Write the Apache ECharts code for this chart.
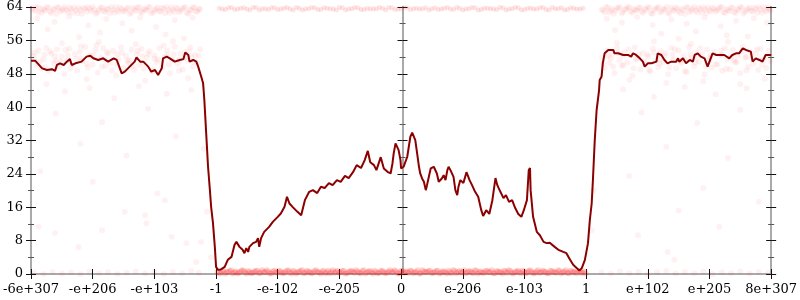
<!DOCTYPE html>
<html><head><meta charset="utf-8">
<script src="https://cdn.jsdelivr.net/npm/echarts@6/dist/echarts.min.js"></script>
<style>html,body{margin:0;padding:0;background:#fff}#c{width:800px;height:300px}</style>
</head><body><div id="c"></div>
<script>
// x positions are in "tick units": 0 = -6e+307 ... 6 = 0 ... 12 = 8e+307
const xTickLabels = ['-6e+307','-e+206','-e+103','-1','-e-102','-e-205','0','e-206','e-103','1','e+102','e+205','8e+307'];

// moving-average line
const lineU = [0,0.07,0.18,0.26,0.34,0.39,0.42,0.47,0.53,0.58,0.63,0.66,0.72,0.82,0.90,0.96,1.01,1.09,1.17,1.25,1.34,1.39,1.44,1.47,1.52,1.60,1.68,1.71,1.77,1.82,1.85,1.90,1.95,2.01,2.06,2.12,2.14,2.20,2.25,2.33,2.41,2.47,2.50,2.55,2.57,2.63,2.68,2.71,2.76,
 2.79,2.81,2.84,2.87,2.90,2.92,2.95,2.98,3.00,3.03,3.08,3.14,3.19,3.25,3.30,3.33,3.38,3.43,3.46,3.49,3.52,3.54,3.60,3.65,3.68,3.70,3.73,3.78,3.86,3.92,4.00,4.05,4.11,4.15,4.19,4.24,4.32,4.38,
 4.44,4.51,4.57,4.64,4.70,4.76,4.83,4.89,4.96,5.02,5.09,5.15,5.22,5.28,5.35,5.41,5.46,5.50,5.56,5.60,5.67,
 5.72,5.78,5.83,5.86,5.88,5.91,5.94,5.96,5.99,6.00,6.02,6.04,6.10,6.15,6.18,6.21,6.23,6.26,6.29,6.31,6.34,6.37,6.40,6.42,6.45,6.48,6.53,6.56,6.58,6.61,6.64,6.66,6.69,6.72,6.75,6.77,6.80,6.83,6.85,6.88,6.91,6.93,6.96,
 7.01,7.06,7.11,7.15,7.20,7.25,7.30,7.33,7.38,7.43,7.48,7.53,7.56,7.61,7.66,7.70,7.75,7.80,7.85,7.90,7.95,7.99,8.04,8.07,8.09,8.10,
 8.14,8.20,8.25,8.31,8.36,8.41,8.44,8.49,8.55,8.63,8.68,8.74,8.79,8.85,8.89,8.93,8.98,9.03,9.06,9.09,9.11,9.14,9.17,9.21,9.22,9.25,9.27,9.30,9.36,9.44,9.46,9.52,9.60,9.68,9.73,9.76,9.81,9.87,9.92,9.95,
 10.00,10.06,10.14,10.16,10.22,10.27,10.32,10.38,10.46,10.49,10.51,10.57,10.62,10.68,10.73,10.76,10.81,10.86,10.92,10.97,11.00,11.05,11.11,11.24,11.32,11.37,11.43,11.48,11.54,11.59,11.67,11.70,11.75,11.81,11.86,11.91,12.00];
const lineV = [51.1,51.1,49.3,48.9,49.1,48.7,50.1,50.5,50.1,50.9,51.5,50.1,50.5,50.9,52.1,52.3,51.7,51.3,51.7,50.9,51.7,51.3,49.3,48.1,48.5,49.7,50.9,51.9,50.9,50.9,51.3,49.7,48.5,48.9,47.7,49.3,51.7,52.1,51.7,50.9,51.3,51.5,53.1,52.5,50.9,51.3,50.9,49.7,47.3,
 45.7,41.7,33.7,25.7,20.1,16.1,12.2,6.5,1.7,1.0,1.1,1.7,3.4,4.1,7.0,7.7,6.5,5.8,5.0,6.2,5.3,6.5,7.4,7.7,8.6,6.5,8.6,10.1,11.3,12.5,13.7,14.5,16.1,18.5,16.9,16.1,14.9,14.1,
 17.7,19.7,20.1,19.4,20.9,20.6,21.8,21.3,22.5,22.1,23.5,23.0,24.4,26.1,25.4,27.3,29.5,26.8,26.1,24.9,28.0,
 25.3,24.5,24.1,26.5,28.9,31.3,30.9,29.7,27.3,25.3,24.9,25.7,28.1,32.9,33.9,33.7,32.1,28.9,25.7,24.1,22.9,22.1,20.1,21.3,23.3,25.3,25.7,25.3,24.1,22.1,22.1,22.9,23.7,22.5,24.9,25.7,24.9,24.5,23.3,20.1,18.9,20.9,22.5,
 21.8,24.4,22.5,21.3,19.7,18.5,15.3,13.9,15.3,14.4,17.7,23.0,21.3,19.7,18.2,18.9,17.3,17.7,15.8,14.4,13.7,15.3,17.7,24.9,25.4,20.1,
 13.7,10.1,9.3,7.7,7.4,7.5,7.4,6.5,5.8,5.3,5.0,3.4,2.2,1.4,0.8,1.4,3.4,7.4,12.9,16.9,22.5,32.1,39.3,44.1,46.5,47.3,50.5,52.9,53.7,53.7,52.9,52.9,52.5,52.5,52.1,52.9,52.5,51.7,50.9,49.7,
 50.5,50.5,50.9,52.9,52.5,51.3,50.5,50.9,50.9,51.7,50.9,51.7,50.5,51.3,50.9,52.5,52.9,52.1,51.7,49.7,50.9,52.9,52.5,52.5,51.7,52.5,52.9,52.9,54.1,53.7,53.3,50.9,51.7,51.3,50.9,52.5,52.5];

// individual samples, outer regions, near the top
const samplesTop = [[0.02,63.7],[0.07,63.1],[0.12,63.9],[0.17,62.6],[0.21,63.4],[0.26,64],[0.31,62.9],[0.36,63.6],[0.41,62.3],[0.45,63.8],[0.5,63.2],[0.55,64],[0.6,62.7],[0.65,63.5],[0.7,63.9],[0.75,62.5],[0.8,63.3],[0.85,63.8],[0.9,62.9],[0.95,63.6],[1.0,64],[1.05,62.4],[1.1,63.2],[1.15,63.8],[1.2,62.8],[1.25,63.5],[1.3,64],[1.35,62.6],[1.4,63.3],[1.45,63.9],[1.5,62.9],[1.55,63.6],[1.6,62.3],[1.65,63.8],[1.7,63.1],[1.75,64],[1.8,62.7],[1.85,63.4],[1.9,63.9],[1.95,62.5],[2.0,63.2],[2.05,63.8],[2.1,62.9],[2.15,63.6],[2.2,64],[2.25,62.6],[2.3,63.3],[2.35,63.9],[2.4,62.8],[2.45,63.5],[2.5,64],[2.55,62.4],[2.6,63.2],[2.65,63.8],[2.7,62.9],[2.74,63.5],
 [0.025,63.3],[0.075,64],[0.125,62.8],[0.175,63.6],[0.225,63.1],[0.275,63.8],[0.325,62.5],[0.375,63.4],[0.425,64],[0.475,62.9],[0.525,63.5],[0.575,63.2],[0.625,63.9],[0.675,62.6],[0.725,63.3],[0.775,63.8],[0.825,62.4],[0.875,63.6],[0.925,64],[0.975,63],[1.025,63.4],[1.075,62.7],[1.125,63.9],[1.175,63.1],[1.225,63.6],[1.275,62.5],[1.325,63.3],[1.375,64],[1.425,62.8],[1.475,63.5],[1.525,63.1],[1.575,63.8],[1.625,62.6],[1.675,63.4],[1.725,63.9],[1.775,62.9],[1.825,63.6],[1.875,63.2],[1.925,64],[1.975,62.7],[2.025,63.5],[2.075,63],[2.125,63.8],[2.175,62.5],[2.225,63.3],[2.275,63.9],[2.325,62.8],[2.375,63.6],[2.425,63.1],[2.475,63.8],[2.525,62.6],[2.575,63.4],[2.625,64],[2.675,62.9],[2.725,63.5],
 [0.1,61.3],[0.38,60.4],[0.62,61.7],[0.93,59.6],[1.22,61.1],[1.48,60.1],[1.77,61.5],[2.03,59.2],[2.33,60.8],[2.62,61.4],[0.27,58.6],[1.12,57.9],[1.63,58.3],[2.18,57.4],[0.78,56.8],[2.48,56.5],
 [9.25,63.4],[9.3,62.7],[9.35,63.9],[9.4,63.1],[9.45,62.4],[9.5,63.7],[9.55,64],[9.6,62.8],[9.65,63.5],[9.7,63.9],[9.75,62.6],[9.8,63.3],[9.85,63.8],[9.9,62.9],[9.95,63.6],[10.0,64],[10.05,62.5],[10.1,63.2],[10.15,63.8],[10.2,62.7],[10.25,63.5],[10.3,64],[10.35,62.4],[10.4,63.3],[10.45,63.9],[10.5,62.9],[10.55,63.6],[10.6,62.3],[10.65,63.8],[10.7,63.1],[10.75,64],[10.8,62.7],[10.85,63.4],[10.9,63.9],[10.95,62.5],[11.0,63.2],[11.05,63.8],[11.1,62.9],[11.15,63.6],[11.2,64],[11.25,62.6],[11.3,63.3],[11.35,63.9],[11.4,62.8],[11.45,63.5],[11.5,64],[11.55,62.4],[11.6,63.2],[11.65,63.8],[11.7,62.9],[11.75,63.5],[11.8,64],[11.85,62.6],[11.9,63.3],[11.95,63.9],[11.99,63.1],
 [9.275,63.2],[9.325,64],[9.375,62.7],[9.425,63.6],[9.475,63.1],[9.525,63.8],[9.575,62.5],[9.625,63.4],[9.675,64],[9.725,62.9],[9.775,63.5],[9.825,63.2],[9.875,63.9],[9.925,62.6],[9.975,63.3],[10.025,63.8],[10.075,62.4],[10.125,63.6],[10.175,64],[10.225,63],[10.275,63.4],[10.325,62.7],[10.375,63.9],[10.425,63.1],[10.475,63.6],[10.525,62.5],[10.575,63.3],[10.625,64],[10.675,62.8],[10.725,63.5],[10.775,63.1],[10.825,63.8],[10.875,62.6],[10.925,63.4],[10.975,63.9],[11.025,62.9],[11.075,63.6],[11.125,63.2],[11.175,64],[11.225,62.7],[11.275,63.5],[11.325,63],[11.375,63.8],[11.425,62.5],[11.475,63.3],[11.525,63.9],[11.575,62.8],[11.625,63.6],[11.675,63.1],[11.725,63.8],[11.775,62.6],[11.825,63.4],[11.875,64],[11.925,62.9],[11.975,63.5],
 [9.33,61.2],[9.58,60.3],[9.83,61.6],[10.08,59.7],[10.38,61],[10.63,60],[10.92,61.4],[11.18,59.4],[11.43,60.7],[11.72,61.3],[11.93,60.2],[9.47,58.4],[10.22,57.6],[10.78,58.1],[11.28,57.2],[11.62,56.9],[10.5,56.4]];

// individual samples, outer regions, middle band
const samplesMid = [[0.03,52.3],[0.08,50.1],[0.12,53.6],[0.16,49.2],[0.2,51.4],[0.25,54.2],[0.29,48.6],[0.33,52.8],[0.37,50.6],[0.42,53.9],[0.46,49.8],[0.5,52.1],[0.54,47.9],[0.58,51.2],[0.62,54],[0.67,50.3],[0.71,52.7],[0.75,48.8],[0.79,53.3],[0.83,51],[0.88,54.4],[0.92,49.5],[0.96,52.5],[1.0,50.2],[1.04,53.7],[1.08,48.3],[1.13,51.8],[1.17,54.1],[1.21,49.9],[1.25,52.9],[1.29,50.7],[1.33,53.5],[1.38,47.6],[1.42,51.5],[1.46,54.3],[1.5,49.4],[1.54,52.2],[1.58,50.5],[1.63,53.8],[1.67,48.9],[1.71,52.6],[1.75,50.1],[1.79,54],[1.83,49.2],[1.88,51.9],[1.92,53.4],[1.96,48.5],[2.0,52.4],[2.04,50.8],[2.08,54.2],[2.13,49.6],[2.17,52],[2.21,53.6],[2.25,48.1],[2.29,51.3],[2.33,54.5],[2.38,50.4],[2.42,52.8],[2.46,49],[2.5,53.2],[2.54,51.1],[2.58,54.3],[2.62,49.7],[2.66,52.5],[2.7,50.6],[2.74,53.9],
 [0.05,51.5],[0.22,52.6],[0.4,51.1],[0.6,52.4],[0.81,51.7],[1.02,52.3],[1.2,51.4],[1.4,52.7],[1.6,51.2],[1.8,52.2],[2.0,51.6],[2.2,52.5],[2.4,51.3],[2.6,52],[0.5,55.3],[1.1,55.6],[1.7,55.1],[2.3,55.8],[0.9,46.7],[1.85,46.3],[2.55,46.9],
 [0.06,53.1],[0.14,50.8],[0.23,49.6],[0.31,53.4],[0.39,52.2],[0.48,50.9],[0.56,53.7],[0.64,49.3],[0.73,51.6],[0.81,54.6],[0.9,50.4],[0.98,51.9],[1.06,54.9],[1.15,49.7],[1.23,53.2],[1.31,48.8],[1.4,50.3],[1.48,53],[1.56,51.1],[1.65,49.9],[1.73,53.5],[1.81,50.6],[1.9,52.8],[1.98,49.1],[2.06,51.4],[2.15,54.7],[2.23,50.2],[2.31,52.6],[2.4,48.7],[2.48,51.7],[2.56,53.3],[2.64,50.9],[2.72,52.3],
 [9.26,51.9],[9.3,49.4],[9.34,53.5],[9.38,50.6],[9.42,52.8],[9.46,48.2],[9.5,54.1],[9.54,51.3],[9.58,49.9],[9.62,53.2],[9.67,50.7],[9.71,52.4],[9.75,47.6],[9.79,54.3],[9.83,51.6],[9.88,49.1],[9.92,53],[9.96,50.3],[10.0,52.6],[10.04,48.6],[10.08,54],[10.13,51.1],[10.17,49.6],[10.21,53.4],[10.25,50.8],[10.29,52.9],[10.33,47.9],[10.38,54.2],[10.42,51.4],[10.46,49.3],[10.5,53.6],[10.54,50.5],[10.58,52.2],[10.63,48.4],[10.67,54.4],[10.71,51.8],[10.75,49.8],[10.79,53.1],[10.83,50.9],[10.88,52.7],[10.92,47.8],[10.96,53.8],[11.0,51.2],[11.04,49.5],[11.08,53.3],[11.13,50.2],[11.17,52.5],[11.21,48.7],[11.25,54.1],[11.29,51.5],[11.33,49],[11.38,53.7],[11.42,50.7],[11.46,52.3],[11.5,48.1],[11.54,54.5],[11.58,51.9],[11.63,49.7],[11.67,53.1],[11.71,50.4],[11.75,52.8],[11.79,48.9],[11.83,54],[11.88,51.3],[11.92,49.4],[11.96,53.5],[11.99,51],
 [9.4,51.8],[9.6,52.3],[9.8,51.4],[10.0,52.1],[10.2,51.6],[10.4,52.5],[10.6,51.3],[10.8,52.2],[11.0,51.7],[11.2,52.4],[11.4,51.2],[11.6,52],[11.8,51.5],[9.7,46.5],[10.3,45.8],[10.9,46.2],[11.5,45.5],[11.9,46.8],[9.5,55.4],[10.1,55.8],[10.7,55.2],[11.3,55.7],
 [9.28,50.6],[9.36,52.2],[9.44,49.7],[9.52,52.9],[9.6,50.1],[9.69,53.8],[9.77,49.3],[9.85,52.7],[9.94,51],[10.02,48.9],[10.1,53.1],[10.19,50.4],[10.27,52.3],[10.35,49.5],[10.44,53.9],[10.52,51.1],[10.6,48.6],[10.69,52.6],[10.77,50.7],[10.85,54.1],[10.94,49.8],[11.02,52.4],[11.1,50.3],[11.19,53.6],[11.27,49.2],[11.35,52],[11.44,50.8],[11.52,53.3],[11.6,48.8],[11.69,51.6],[11.77,53.9],[11.85,50.1],[11.94,52.2]];

// scattered single samples and the faint zero row of the outer regions
const samplesSparse = [[0.25,45.5],[0.55,43.8],[0.95,44.6],[1.35,42.1],[1.75,45],[2.2,43.2],[2.6,44.1],[0.4,38.5],[1.15,36.4],[1.9,39.6],[0.8,31.2],[1.55,28.4],[2.35,33],[0.15,24.6],[1.0,22.1],[2.05,19.3],
 [0.12,11.3],[0.39,9.8],[0.77,6.5],[1.15,10.5],[1.52,14.9],[1.85,14.1],[1.87,12.1],[2.17,17.7],[2.28,8.9],[2.52,7.4],[2.76,7.7],[2.68,2.9],[2.8,30],[2.85,15],[2.92,4],
 [9.84,9.3],[10.32,5.3],[10.43,3.4],[11.16,11.3],[9.09,10.5],[9.12,20],[9.6,44.2],[10.1,42.5],[10.6,44.8],[11.1,43.1],[11.6,44.5],[9.9,38.7],[10.8,36.2],[11.5,39.4],[10.3,30.5],[11.3,27.8],[9.7,23.5],[10.9,20.6],[11.8,17.3],[10.5,15.2],
 [0.05,0.3],[0.2,0],[0.35,0.5],[0.5,0.1],[0.65,0.4],[0.8,0],[0.95,0.6],[1.1,0.2],[1.25,0.5],[1.4,0],[1.55,0.3],[1.7,0.6],[1.85,0.1],[2.0,0.4],[2.15,0],[2.3,0.5],[2.45,0.2],[2.6,0.7],[2.72,0.3],
 [9.25,0.4],[9.4,0.1],[9.55,0.6],[9.7,0.2],[9.85,0.5],[10.0,0],[10.15,0.4],[10.3,0.7],[10.45,0.1],[10.6,0.5],[10.75,0.2],[10.9,0.6],[11.05,0],[11.2,0.4],[11.35,0.2],[11.5,0.6],[11.65,0.1],[11.8,0.5],[11.95,0.3]];

// dense rows of samples between -1 and 1 (exactly 0 or 64)
const samplesZeroRow = [[3.02,0.5],[3.07,0.2],[3.12,0.8],[3.17,0.4],[3.22,0.7],[3.27,0.1],[3.32,0.6],[3.37,0.3],[3.42,0.9],[3.47,0.4],[3.52,0.7],[3.57,0.2],[3.62,0.6],[3.67,0.8],[3.72,0.3],[3.77,0.5],[3.82,0.9],[3.87,0.2],[3.92,0.6],[3.97,0.4],[4.02,0.8],[4.07,0.3],[4.12,0.5],[4.17,0.9],[4.22,0.1],[4.27,0.6],[4.32,0.4],[4.37,0.8],[4.42,0.2],[4.47,0.7],[4.52,0.5],[4.57,0.3],[4.62,0.9],[4.67,0.4],[4.72,0.6],[4.77,0.2],[4.82,0.8],[4.87,0.5],[4.92,0.3],[4.97,0.7],
 [5.02,0.4],[5.07,0.8],[5.12,0.2],[5.17,0.6],[5.22,0.5],[5.27,0.9],[5.32,0.3],[5.37,0.7],[5.42,0.1],[5.47,0.6],[5.52,0.4],[5.57,0.8],[5.62,0.2],[5.67,0.7],[5.72,0.5],[5.77,0.3],[5.82,0.9],[5.87,0.4],[5.92,0.6],[5.97,0.2],[6.02,0.8],[6.07,0.5],[6.12,0.3],[6.17,0.7],[6.22,0.4],[6.27,0.9],[6.32,0.2],[6.37,0.6],[6.42,0.5],[6.47,0.8],[6.52,0.3],[6.57,0.7],[6.62,0.1],[6.67,0.6],[6.72,0.4],[6.77,0.8],[6.82,0.2],[6.87,0.7],[6.92,0.5],[6.97,0.3],
 [7.02,0.9],[7.07,0.4],[7.12,0.6],[7.17,0.2],[7.22,0.8],[7.27,0.5],[7.32,0.3],[7.37,0.7],[7.42,0.4],[7.47,0.9],[7.52,0.2],[7.57,0.6],[7.62,0.5],[7.67,0.8],[7.72,0.3],[7.77,0.7],[7.82,0.1],[7.87,0.6],[7.92,0.4],[7.97,0.8],[8.02,0.2],[8.07,0.7],[8.12,0.5],[8.17,0.3],[8.22,0.9],[8.27,0.4],[8.32,0.6],[8.37,0.2],[8.42,0.8],[8.47,0.5],[8.52,0.3],[8.57,0.7],[8.62,0.4],[8.67,0.9],[8.72,0.2],[8.77,0.6],[8.82,0.5],[8.87,0.8],[8.92,0.3],[8.97,0.6],
 [3.045,0.3],[3.095,0.7],[3.145,0.1],[3.195,0.5],[3.245,0.9],[3.295,0.4],[3.345,0.2],[3.395,0.6],[3.445,0.8],[3.495,0.1],[3.545,0.5],[3.595,0.3],[3.645,0.7],[3.695,0.2],[3.745,0.9],[3.795,0.4],[3.845,0.6],[3.895,0.1],[3.945,0.8],[3.995,0.3],
 [4.045,0.6],[4.095,0.2],[4.145,0.8],[4.195,0.4],[4.245,0.7],[4.295,0.1],[4.345,0.5],[4.395,0.9],[4.445,0.3],[4.495,0.6],[4.545,0.2],[4.595,0.7],[4.645,0.5],[4.695,0.1],[4.745,0.8],[4.795,0.4],[4.845,0.2],[4.895,0.9],[4.945,0.6],[4.995,0.3],
 [5.045,0.7],[5.095,0.1],[5.145,0.5],[5.195,0.8],[5.245,0.3],[5.295,0.6],[5.345,0.2],[5.395,0.9],[5.445,0.4],[5.495,0.7],[5.545,0.1],[5.595,0.5],[5.645,0.3],[5.695,0.8],[5.745,0.2],[5.795,0.6],[5.845,0.4],[5.895,0.9],[5.945,0.1],[5.995,0.7],
 [6.045,0.3],[6.095,0.6],[6.145,0.8],[6.195,0.2],[6.245,0.5],[6.295,0.1],[6.345,0.9],[6.395,0.4],[6.445,0.7],[6.495,0.2],[6.545,0.5],[6.595,0.8],[6.645,0.3],[6.695,0.6],[6.745,0.1],[6.795,0.4],[6.845,0.9],[6.895,0.2],[6.945,0.7],[6.995,0.5],
 [7.045,0.2],[7.095,0.7],[7.145,0.4],[7.195,0.9],[7.245,0.1],[7.295,0.6],[7.345,0.3],[7.395,0.8],[7.445,0.5],[7.495,0.2],[7.545,0.7],[7.595,0.4],[7.645,0.1],[7.695,0.6],[7.745,0.9],[7.795,0.3],[7.845,0.5],[7.895,0.8],[7.945,0.2],[7.995,0.6],
 [8.045,0.4],[8.095,0.9],[8.145,0.1],[8.195,0.6],[8.245,0.3],[8.295,0.8],[8.345,0.5],[8.395,0.2],[8.445,0.7],[8.495,0.4],[8.545,0.9],[8.595,0.1],[8.645,0.6],[8.695,0.3],[8.745,0.8],[8.795,0.5],[8.845,0.2],[8.895,0.7],[8.945,0.4],[8.995,0.1]];
const samplesFullRow = [[3.05,63.7],[3.15,63.4],[3.25,63.9],[3.35,63.5],[3.45,63.8],[3.55,63.3],[3.65,63.9],[3.75,63.6],[3.85,63.4],[3.95,63.8],[4.05,63.5],[4.15,63.9],[4.25,63.3],[4.35,63.7],[4.45,63.5],[4.55,63.9],[4.65,63.4],[4.75,63.8],[4.85,63.6],[4.95,63.3],
 [5.05,63.8],[5.15,63.5],[5.25,63.9],[5.35,63.4],[5.45,63.7],[5.55,63.6],[5.65,63.9],[5.75,63.3],[5.85,63.8],[5.95,63.5],[6.05,63.9],[6.15,63.4],[6.25,63.7],[6.35,63.6],[6.45,63.3],[6.55,63.8],[6.65,63.5],[6.75,63.9],[6.85,63.4],[6.95,63.7],
 [7.05,63.5],[7.15,63.9],[7.25,63.3],[7.35,63.7],[7.45,63.6],[7.55,63.4],[7.65,63.8],[7.75,63.5],[7.85,63.9],[7.95,63.3],[8.05,63.7],[8.15,63.5],[8.25,63.8],[8.35,63.4],[8.45,63.9],[8.55,63.6],[8.65,63.3],[8.75,63.8],[8.85,63.5],[8.95,63.7],
 [3.1,63.5],[3.2,63.8],[3.3,63.4],[3.4,63.7],[3.5,63.5],[3.6,63.9],[3.7,63.3],[3.8,63.6],[3.9,63.8],[4.0,63.4],[4.1,63.7],[4.2,63.5],[4.3,63.9],[4.4,63.3],[4.5,63.6],[4.6,63.8],[4.7,63.4],[4.8,63.7],[4.9,63.5],[5.0,63.9],[5.1,63.3],[5.2,63.6],[5.3,63.8],[5.4,63.4],[5.5,63.5],[5.6,63.5],[5.7,63.7],[5.8,63.9],[5.9,63.4],[6.0,63.5],[6.1,63.8],[6.2,63.6],[6.3,63.5],[6.4,63.8],[6.5,63.6],[6.6,63.4],[6.7,63.7],[6.8,63.5],[6.9,63.9],[7.0,63.3],[7.1,63.6],[7.2,63.8],[7.3,63.4],[7.4,63.7],[7.5,63.5],[7.6,63.9],[7.7,63.3],[7.8,63.6],[7.9,63.8],[8.0,63.4],[8.1,63.7],[8.2,63.5],[8.3,63.9],[8.4,63.3],[8.5,63.6],[8.6,63.8],[8.7,63.4],[8.8,63.7],[8.9,63.5]];

const chart = echarts.init(document.getElementById('c'), null, {renderer:'canvas'});
const serif = 'DejaVu Serif';
function yAx(pos, offset, inside, labels) {
  return {
    type:'value', min:0, max:64, interval:8, position:pos, offset:offset,
    axisLine:{show:true, lineStyle:{color:'#aaa', width:2}},
    axisTick:{show:true, inside:inside, length:5, lineStyle:{color:'#111', width:1}},
    minorTick:{show:true, splitNumber:2, length:3, lineStyle:{color:'#555', width:1}},
    axisLabel:{show:labels, color:'#000', fontFamily:serif, fontSize:13, margin:8},
    splitLine:{show:false}, minorSplitLine:{show:false}
  };
}
function xAx(inside, labels) {
  return {
    type:'value', min:0, max:12, interval:1, position:'bottom',
    axisLine:{show:true, onZero:false, lineStyle:{color:'#aaa', width:2}},
    axisTick:{show:true, inside:inside, length:5, lineStyle:{color:'#111', width:1}},
    axisLabel:{show:labels, color:'#000', fontFamily:serif, fontSize:13, margin:9,
      formatter:(v)=>xTickLabels[Math.round(v)]},
    splitLine:{show:false}
  };
}
const dot = (op)=>({color:'rgba(255,0,0,'+op+')'});
chart.setOption({
  animation:false,
  backgroundColor:'#fff',
  grid:{left:29, right:28, top:7, bottom:26, containLabel:false},
  xAxis:[xAx(false,true), xAx(true,false)],
  yAxis:[yAx('left',0,false,true), yAx('left',0,true,false),
         yAx('left',-371.5,false,false), yAx('left',-371.5,true,false),
         yAx('right',0,false,false), yAx('right',0,true,false)],
  series:[
    {type:'scatter', data:samplesSparse, symbolSize:6, itemStyle:dot(0.07), clip:false, silent:true, z:1},
    {type:'scatter', data:samplesTop, symbolSize:6, itemStyle:dot(0.07), clip:false, silent:true, z:1},
    {type:'scatter', data:samplesMid, symbolSize:6, itemStyle:dot(0.065), clip:false, silent:true, z:1},
    {type:'scatter', data:samplesZeroRow, symbolSize:6, itemStyle:dot(0.2), clip:false, silent:true, z:1},
    {type:'scatter', data:samplesFullRow, symbolSize:5, itemStyle:dot(0.13), clip:false, silent:true, z:1},
    {type:'line', data:lineU.map((u,i)=>[u,lineV[i]]), showSymbol:false, symbol:'none',
     lineStyle:{color:'#8b0000', width:2}, z:5, silent:true}
  ]
});
</script></body></html>
